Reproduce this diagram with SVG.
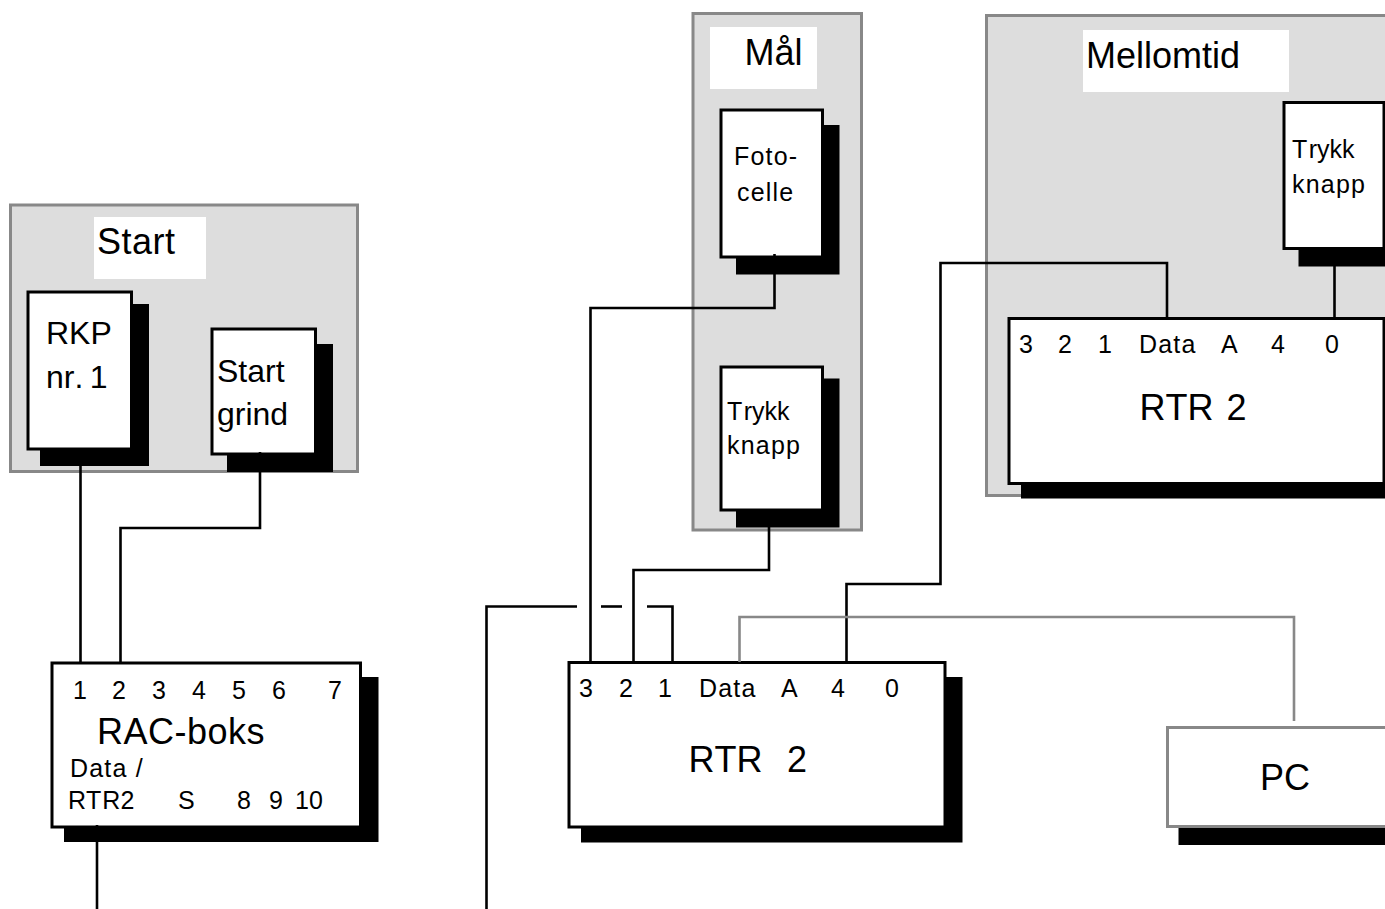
<svg xmlns="http://www.w3.org/2000/svg" width="1385" height="909" viewBox="0 0 1385 909">
<style>
text{font-family:"Liberation Sans",Arial,sans-serif;fill:#000;font-kerning:none}
.lg{font-size:36px}
.wide{letter-spacing:.5px}
.md{font-size:32px}
.sm{font-size:25px}
.ls{letter-spacing:1.2px}
.panel{fill:#ddd;stroke:#888;stroke-width:3}
.label{fill:#fff}
.box{fill:#fff;stroke:#000;stroke-width:3}
.grey{fill:#fff;stroke:#888;stroke-width:3}
.shadow{fill:#000}
.wire{fill:none;stroke:#000;stroke-width:2.6}
.wireg{fill:none;stroke:#888;stroke-width:2.6}
</style>
<rect width="1385" height="909" fill="#fff"/>
<g id="panel-start">
<rect class="panel" x="10.500" y="205" width="347" height="266.500"/>
<rect class="label" x="94" y="217" width="112" height="62"/>
<text class="lg wide" x="97" y="254">Start</text>
</g>
<g id="panel-maal">
<rect class="panel" x="693" y="13.500" width="168.500" height="516.500"/>
<rect class="label" x="710" y="27" width="107" height="62"/>
<text class="lg" x="744.500" y="65">Mål</text>
</g>
<g id="panel-mellomtid">
<rect class="panel" x="986.500" y="15.500" width="420" height="480"/>
<rect class="label" x="1083" y="30" width="206" height="62"/>
<text class="lg" x="1086" y="68">Mellomtid</text>
</g>
<g id="rkp">
<rect class="shadow" x="40" y="304" width="109" height="162"/>
<rect class="box" x="28" y="292" width="103.500" height="157"/>
<text class="md" x="46" y="344">RKP</text>
<text class="md" x="46" y="388">nr. <tspan dx="-2.500">1</tspan></text>
</g>
<g id="startgrind">
<rect class="shadow" x="227" y="344" width="106" height="128"/>
<rect class="box" x="212" y="329" width="103.500" height="125"/>
<text class="md" x="217" y="382">Start</text>
<text class="md" x="217" y="425">grind</text>
</g>
<g id="fotocelle">
<rect class="shadow" x="736" y="125" width="103.500" height="149.500"/>
<rect class="box" x="721" y="110" width="101.500" height="147"/>
<text class="sm ls" x="734" y="165">Foto-</text>
<text class="sm ls" x="737" y="201">celle</text>
</g>
<g id="trykk-maal">
<rect class="shadow" x="736" y="378.500" width="103.500" height="149"/>
<rect class="box" x="721" y="367" width="101.500" height="143"/>
<text class="sm" x="727" y="419.500">T<tspan dx="1.500">r</tspan>ykk</text>
<text class="sm ls" x="727" y="453.500">knapp</text>
</g>
<g id="trykk-mellomtid">
<rect class="shadow" x="1298.500" y="115" width="120" height="151.500"/>
<rect class="box" x="1284" y="102.500" width="100" height="146"/>
<text class="sm" x="1292" y="157.500">T<tspan dx="1.500">r</tspan>ykk</text>
<text class="sm ls" x="1292" y="192.500">knapp</text>
</g>
<g id="rtr2-mellomtid">
<rect class="shadow" x="1021" y="330" width="400" height="168.500"/>
<rect class="box" x="1009" y="318.500" width="375" height="165"/>
<text class="sm" x="1019" y="353">3</text>
<text class="sm" x="1058" y="353">2</text>
<text class="sm" x="1098" y="353">1</text>
<text class="sm ls" x="1139" y="353">Data</text>
<text class="sm" x="1221" y="353">A</text>
<text class="sm" x="1271" y="353">4</text>
<text class="sm" x="1325" y="353">0</text>
<text class="lg" x="1139.500" y="420">RTR <tspan dx="3">2</tspan></text>
</g>
<g id="rac-boks">
<rect class="shadow" x="64" y="677" width="314.500" height="165"/>
<rect class="box" x="52" y="663" width="308.500" height="164"/>
<text class="sm" x="73" y="699">1</text>
<text class="sm" x="112" y="699">2</text>
<text class="sm" x="152" y="699">3</text>
<text class="sm" x="192" y="699">4</text>
<text class="sm" x="232" y="699">5</text>
<text class="sm" x="272" y="699">6</text>
<text class="sm" x="328" y="699">7</text>
<text class="lg wide" x="97" y="744">RAC-boks</text>
<text class="sm ls" x="70" y="777">Data /</text>
<text class="sm" x="68" y="809">RT<tspan dx="1">R2</tspan></text>
<text class="sm" x="178" y="809">S</text>
<text class="sm" x="237" y="809">8</text>
<text class="sm" x="269" y="809">9</text>
<text class="sm" x="295" y="809">10</text>
</g>
<g id="rtr2-main">
<rect class="shadow" x="581" y="677" width="381.500" height="165.500"/>
<rect class="box" x="569" y="662.500" width="376" height="164.500"/>
<text class="sm" x="579" y="697">3</text>
<text class="sm" x="619" y="697">2</text>
<text class="sm" x="658" y="697">1</text>
<text class="sm ls" x="699" y="697">Data</text>
<text class="sm" x="781" y="697">A</text>
<text class="sm" x="831" y="697">4</text>
<text class="sm" x="885" y="697">0</text>
<text class="lg" x="688.500" y="772" xml:space="preserve">RTR  <tspan dx="4.500">2</tspan></text>
</g>
<g id="pc">
<rect class="shadow" x="1178.500" y="740" width="240" height="105"/>
<rect class="grey" x="1167.500" y="727.500" width="240" height="99"/>
<text class="lg" x="1260" y="790">PC</text>
</g>
<g id="connectors">
<path class="wire" d="M80.500 466V662"/>
<path class="wire" d="M260 452V528H120.500V664"/>
<path class="wire" d="M97 825V909"/>
<path class="wire" d="M774.500 254V308H590.500V662"/>
<path class="wire" d="M769 527V570H633.500V662"/>
<path class="wire" d="M486.500 909V606.500H577"/>
<path class="wire" d="M601 606.500H622"/>
<path class="wire" d="M647 606.500H672.500V662"/>
<path class="wire" d="M846.500 662V584H940.500V263H1167V318"/>
<path class="wire" d="M1334.500 266V318"/>
<path class="wireg" d="M739.500 662V617H1294V721"/>
</g>
</svg>
